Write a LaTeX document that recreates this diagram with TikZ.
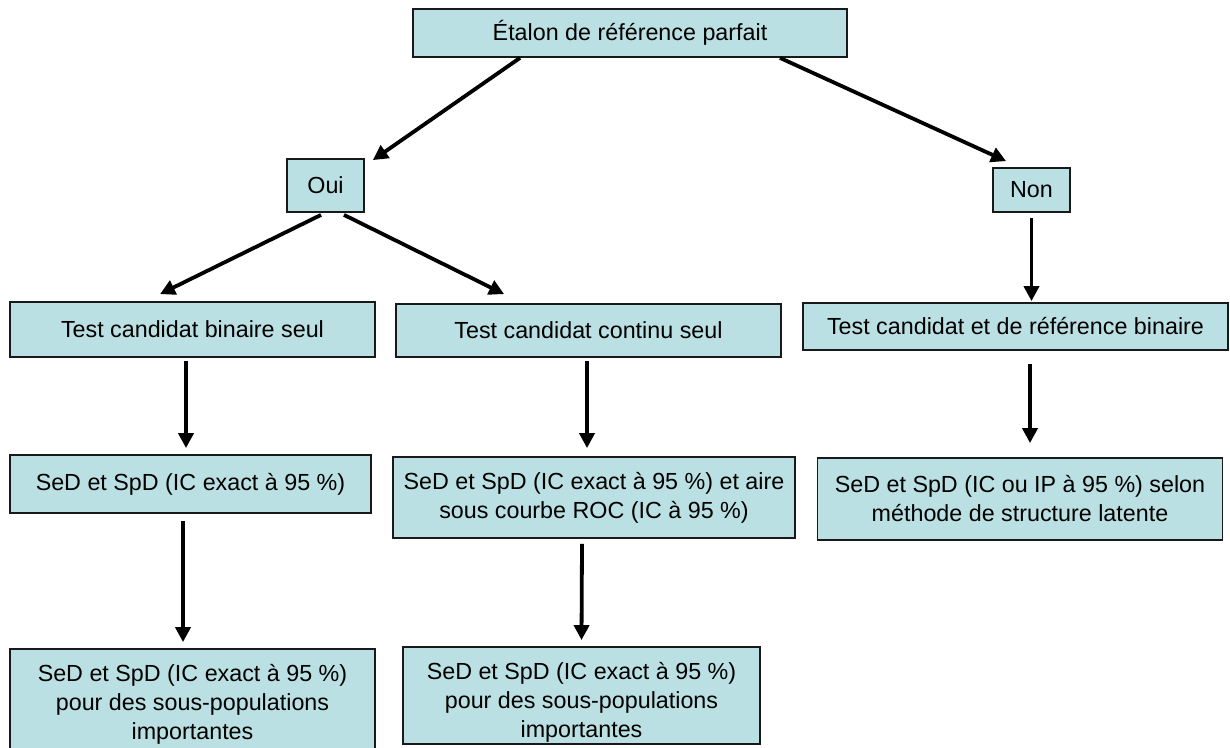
\documentclass[tikz,border=0pt]{standalone}
\usepackage{fontspec}
\setmainfont{Liberation Sans}
\usetikzlibrary{arrows.meta}
\definecolor{boxfill}{RGB}{186,224,227}
\begin{document}
\begin{tikzpicture}[x=1pt,y=-1pt,
  box/.style={draw=black!90, line width=1.8pt, fill=boxfill, inner sep=0pt, align=center,
    font=\fontsize{23.3}{29}\selectfont},
  arr/.style={line width=3.8pt, -{Triangle[length=15pt,width=15pt]}}]
\useasboundingbox (0,0) rectangle (1230,747);

\node[box, minimum width=434pt, minimum height=48pt] (top) at (630,33) {Étalon de référence parfait};
\node[box, minimum width=77pt, minimum height=53pt] (oui) at (325.5,185.5) {Oui};
\node[box, minimum width=77pt, minimum height=44pt] (non) at (1031.5,190) {Non};
\node[box, minimum width=365pt, minimum height=55pt] (bin) at (192.5,329.5) {Test candidat binaire seul};
\node[box, minimum width=385pt, minimum height=53pt] (con) at (588.5,330.5) {Test candidat continu seul};
\node[box, minimum width=425pt, minimum height=47pt] (ref) at (1015.5,326.5) {Test candidat et de référence binaire};
\node[box, minimum width=361pt, minimum height=58pt] (sed1) at (190.5,484) {SeD et SpD (IC exact à 95~\%)};
\node[box, minimum width=402pt, minimum height=81pt] (sed2) at (594,497.5) {SeD et SpD (IC exact à 95~\%) et aire\\sous courbe ROC (IC à 95~\%)};
\node[box, minimum width=405pt, minimum height=82pt] (sed3) at (1020,499) {SeD et SpD (IC ou IP à 95~\%) selon\\méthode de structure latente};
\node[box, minimum width=365pt, minimum height=110pt] (bot1) at (192.5,704) {SeD et SpD (IC exact à 95~\%)\\pour des sous-populations\\importantes};
\node[box, minimum width=357pt, minimum height=97pt] (bot2) at (581.5,695.5)
  {\raisebox{-7pt}[\height][\depth]{\begin{tabular}{@{}c@{}}SeD et SpD (IC exact à 95~\%)\\pour des sous-populations\\importantes\end{tabular}}};

\draw[arr] ([xshift=-110pt]top.south) -- ([xshift=8pt,yshift=-2pt]oui.north east);
\draw[arr] ([xshift=150pt]top.south) -- ([xshift=14pt,yshift=6pt]non.north west);
\draw[arr] ([xshift=-4.5pt,yshift=-2pt]oui.south) -- ([xshift=-32.5pt,yshift=7pt]bin.north);
\draw[arr] ([xshift=18.5pt,yshift=-2pt]oui.south) -- ([xshift=109pt,yshift=9pt]con.north west);
\draw[arr] ([yshift=-5pt]non.south) -- ([yshift=1pt]non.south |- ref.north);
\draw[arr] ([xshift=-6.5pt,yshift=-3pt]bin.south) -- ([xshift=-4.5pt,yshift=6pt]sed1.north);
\draw[arr] ([xshift=-7.5pt,yshift=-7pt]sed1.south) -- ([xshift=-9.5pt,yshift=6pt]bot1.north);
\draw[arr] ([xshift=-1.5pt,yshift=-3pt]con.south) -- ([xshift=-7pt,yshift=8pt]sed2.north);
\draw[arr] ([xshift=-12pt,yshift=-5pt]sed2.south) -- ([yshift=6pt]bot2.north);
\draw[arr] ([xshift=14.5pt,yshift=-13pt]ref.south) -- ([xshift=10pt,yshift=14pt]sed3.north);
\end{tikzpicture}
\end{document}
